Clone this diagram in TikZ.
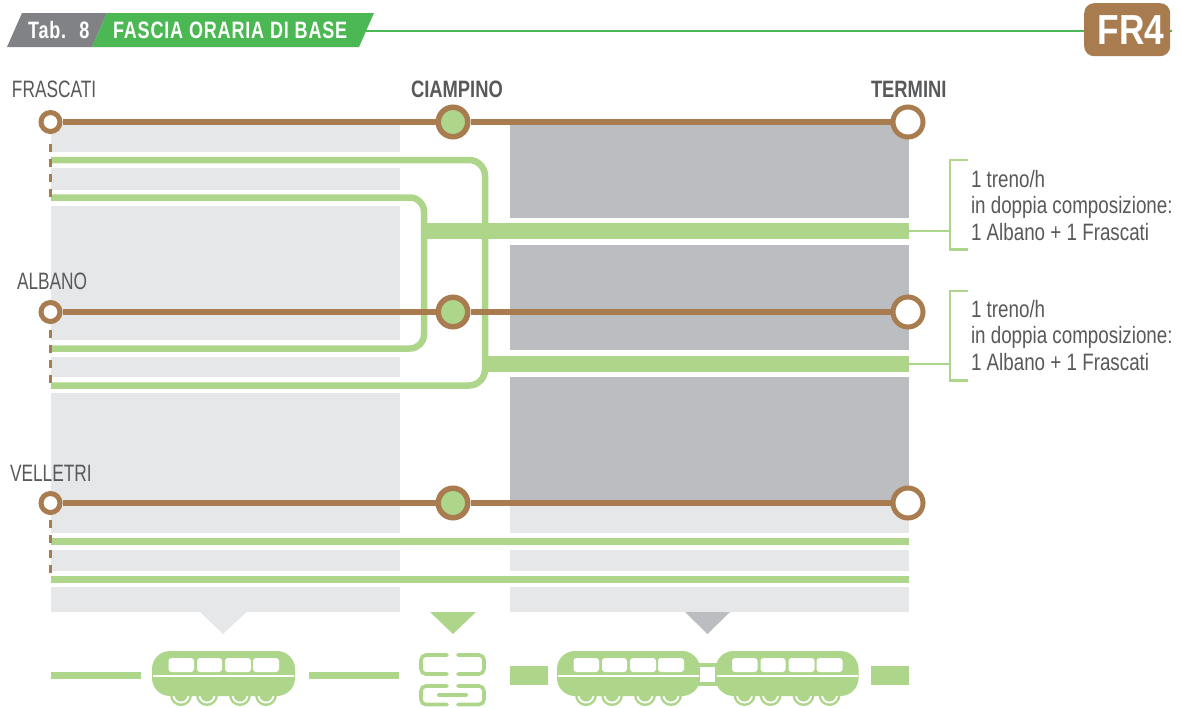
\documentclass[tikz,border=0pt]{standalone}
\usepackage{fontspec}
\setmainfont{Liberation Sans}
\newfontfamily\labfont[FakeStretch=0.73]{Liberation Sans}
\newfontfamily\txtfont[FakeStretch=0.793]{Liberation Sans}
\newfontfamily\boldlab[FakeStretch=0.775]{Liberation Sans Bold}
\newfontfamily\headfont[FakeStretch=0.76,LetterSpace=3.5]{Liberation Sans Bold}
\newfontfamily\frfont[FakeStretch=0.84]{Liberation Sans Bold}
\definecolor{lgreen}{HTML}{AED68B}
\definecolor{hgreen}{HTML}{4BB853}
\definecolor{lgrey}{HTML}{E6E7E8}
\definecolor{dgrey}{HTML}{BBBDC0}
\definecolor{hgrey}{HTML}{808285}
\definecolor{brownc}{HTML}{A97C50}
\definecolor{textc}{HTML}{58595B}
\tikzset{
  x=1pt,y=-1pt,
  txtbase/.style={anchor=base west,inner sep=0pt,outer sep=0pt},
  lab/.style={txtbase,text=textc,font=\labfont\fontsize{23.7}{28}\selectfont},
  blab/.style={txtbase,text=textc,font=\boldlab\fontsize{23.7}{28}\selectfont},
  hlab/.style={txtbase,text=white,font=\headfont\fontsize{23.7}{28}\selectfont},
  rtxt/.style={txtbase,text=textc,font=\txtfont\fontsize{23.7}{27}\selectfont},
  smallstn/.style={circle,draw=brownc,fill=white,line width=5pt,minimum size=19pt,inner sep=0pt},
  midstn/.style={circle,draw=brownc,fill=lgreen,line width=5.5pt,minimum size=29.5pt,inner sep=0pt},
  endstn/.style={circle,draw=brownc,fill=white,line width=5pt,minimum size=30pt,inner sep=0pt},
  brownline/.style={draw=brownc,line width=5.2pt},
  dashbrown/.style={draw=brownc,line width=2.6pt,dash pattern=on 7.5pt off 7.5pt},
  greenline/.style={draw=lgreen,line width=6.5pt},
  bracket/.style={draw=lgreen,line width=2.6pt},
  train/.pic={
    \foreach \wx in {29,55,88,114}{
      \fill[lgreen] (\wx,44) circle[radius=11pt];
      \fill[white] (\wx,44) circle[radius=8.5pt];
      \fill[lgreen] (\wx,44) circle[radius=6.5pt];
    }
    \fill[lgreen,rounded corners=18pt] (0,0) rectangle (143,45);
    \foreach \wa/\wb in {16.5/42,45/70,73/99,101/127}
      \fill[white,rounded corners=3pt] (\wa,7) rectangle (\wb,21);
    \fill[white] (1,24) rectangle (142,25.5);
  },
  chainlink/.style={draw=lgreen,line width=3.6pt,line cap=round,rounded corners=5pt},
}
\begin{document}
\begin{tikzpicture}
\useasboundingbox (0,0) rectangle (1182,707);
\fill[white] (0,0) rectangle (1182,707);
% grey bands, left
\foreach \a/\b in {124/152,168/190,206/340,357/377,393/533,550/571,587/612}
  \fill[lgrey] (51,\a) rectangle (400,\b);
% grey bands, right
\foreach \a/\b in {503/533,550/571,587/612}
  \fill[lgrey] (510,\a) rectangle (909,\b);
\foreach \a/\b in {124/218,245/350,377/503}
  \fill[dgrey] (510,\a) rectangle (909,\b);
% pointers
\fill[lgrey] (200,612) -- (246.5,612) -- (223,634) -- cycle;
\fill[lgreen] (430,612) -- (476,612) -- (453,634) -- cycle;
\fill[dgrey] (685,612) -- (730,612) -- (707.5,634) -- cycle;
% header
\coordinate (hl) at (366,31);
\coordinate (hr) at (1172,31);
\draw[hgreen,line width=2.6pt] (hl) -- (hr);
\fill[hgrey] (7,47) -- (22,13) -- (107,13) -- (92,47) -- cycle;
\fill[hgreen] (92,47) -- (107,13) -- (374,13) -- (359,47) -- cycle;
\node[hlab] (tab) at (28,38) {Tab.\hspace{5.5pt} 8};
\node[hlab] (fascia) at (113,38) {FASCIA ORARIA DI BASE};
\node[rectangle,fill=brownc,rounded corners=10pt,minimum width=86pt,minimum height=53pt,inner sep=0pt,anchor=north west] (frbox) at (1084,3) {};
\node[txtbase,text=white,font=\frfont\fontsize{42}{46}\selectfont] (fr) at (1097.5,44.5) {FR4};
% green services
\coordinate (a1) at (51,160);
\coordinate (a2) at (485,160);
\coordinate (a3) at (485,385.5);
\coordinate (a4) at (51,385.5);
\coordinate (b1) at (51,197.5);
\coordinate (b2) at (424,197.5);
\coordinate (b3) at (424,348.5);
\coordinate (b4) at (51,348.5);
\draw[greenline,rounded corners=16pt] (a1) -- (a2) -- (a3) -- (a4);
\draw[greenline,rounded corners=14pt] (b1) -- (b2) -- (b3) -- (b4);
\coordinate (t1a) at (424,231);
\coordinate (t1b) at (909,231);
\coordinate (t2a) at (485,364);
\coordinate (t2b) at (909,364);
\draw[draw=lgreen,line width=16pt] (t1a) -- (t1b);
\draw[draw=lgreen,line width=16pt] (t2a) -- (t2b);
\coordinate (c1) at (51,541.5);
\coordinate (c2) at (909,541.5);
\coordinate (d1) at (51,579.5);
\coordinate (d2) at (909,579.5);
\draw[greenline] (c1) -- (c2);
\draw[greenline] (d1) -- (d2);
% brackets
\coordinate (br1t) at (968,160);
\coordinate (br1tc) at (950,160);
\coordinate (br1m) at (950,231);
\coordinate (br1bc) at (950,249.5);
\coordinate (br1b) at (968,249.5);
\draw[bracket] (br1t) -- (br1tc) -- (br1bc) -- (br1b);
\draw[bracket] (t1b) -- (br1m);
\coordinate (br2t) at (968,291);
\coordinate (br2tc) at (950,291);
\coordinate (br2m) at (950,364);
\coordinate (br2bc) at (950,380.5);
\coordinate (br2b) at (968,380.5);
\draw[bracket] (br2t) -- (br2tc) -- (br2bc) -- (br2b);
\draw[bracket] (t2b) -- (br2m);
% dashed links
\foreach \a/\b in {144/199,330/385,520/576}{
  \draw[dashbrown] (50.5,\a) -- (50.5,\b);
}
% stations
\node[smallstn] (fra) at (50.5,122) {};
\node[midstn] (ci1) at (453,122) {};
\node[endstn] (te1) at (908,122) {};
\node[smallstn] (alb) at (50.5,312) {};
\node[midstn] (ci2) at (453,312) {};
\node[endstn] (te2) at (908,312) {};
\node[smallstn] (vel) at (50.5,503) {};
\node[midstn] (ci3) at (453,503) {};
\node[endstn] (te3) at (908,503) {};
\draw[brownline] (fra) -- (ci1);
\draw[brownline] (ci1) -- (te1);
\draw[brownline] (alb) -- (ci2);
\draw[brownline] (ci2) -- (te2);
\draw[brownline] (vel) -- (ci3);
\draw[brownline] (ci3) -- (te3);
% labels
\node[lab] (lfra) at (12,97) {FRASCATI};
\node[lab] (lalb) at (17,289) {ALBANO};
\node[lab] (lvel) at (10,481) {VELLETRI};
\node[blab] (lci) at (411,97) {CIAMPINO};
\node[blab] (lte) at (871,97) {TERMINI};
% notes
\node[rtxt] (n11) at (971,187) {1 treno/h};
\node[rtxt] (n12) at (971,213.5) {in doppia composizione:};
\node[rtxt] (n13) at (971,240.5) {1 Albano + 1 Frascati};
\node[rtxt] (n21) at (971,317) {1 treno/h};
\node[rtxt] (n22) at (971,343.5) {in doppia composizione:};
\node[rtxt] (n23) at (971,370.5) {1 Albano + 1 Frascati};
% legend
\fill[lgreen] (51,672) rectangle (141,679);
\fill[lgreen] (309,672) rectangle (399,679);
\fill[lgreen] (510,666) rectangle (548,684.5);
\fill[lgreen] (871,666) rectangle (909,684.5);
\pic at (152,651) {train};
\fill[lgreen] (695,663) rectangle (720,686);
\pic at (557,651) {train};
\pic at (715.5,651) {train};
\fill[white] (700,667) rectangle (715,682);
% chain icon
\draw[chainlink] (447,655) -- (421,655) -- (421,674) -- (447,674);
\draw[chainlink] (458,655) -- (484,655) -- (484,674) -- (458,674);
\draw[chainlink] (447,686) -- (421,686) -- (421,704.5) -- (447,704.5);
\draw[chainlink] (458,686) -- (484,686) -- (484,704.5) -- (458,704.5);
\draw[draw=lgreen,line width=4pt,line cap=round] (439,695) -- (466,695);
\end{tikzpicture}
\end{document}
